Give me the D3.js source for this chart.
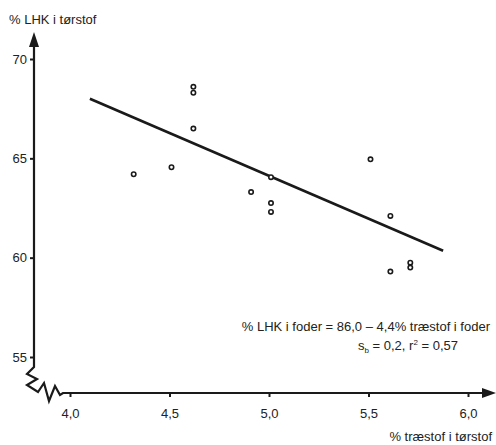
<!DOCTYPE html>
<html><head><meta charset="utf-8">
<script src="https://cdn.jsdelivr.net/npm/d3@7"></script>
<style>body{margin:0;background:#fff;} text{font-family:"Liberation Sans",Arial,sans-serif;fill:#222;}</style>
</head><body><svg id="c" width="496" height="445"></svg>
<script>
const xTicks = [4.0, 4.5, 5.0, 5.5, 6.0];
const xTickLabels = ["4,0", "4,5", "5,0", "5,5", "6,0"];
const yTicks = [55, 60, 65, 70];
const yTickLabels = ["55", "60", "65", "70"];
const pointX = [4.62, 4.62, 4.62, 4.32, 4.51, 4.91, 5.01, 5.01, 5.01, 5.51, 5.61, 5.61, 5.71, 5.71];
const pointY = [68.6, 68.3, 66.5, 64.2, 64.55, 63.3, 64.05, 62.75, 62.3, 64.95, 62.1, 59.3, 59.75, 59.5];
const lineX = [4.1, 5.875];
const lineY = [68.0, 60.35];
const yTitle = "% LHK i tørstof";
const xTitle = "% træstof i tørstof";
const eq1 = "% LHK i foder = 86,0 – 4,4% træstof i foder";

const svg = d3.select("#c");
const x = d3.scaleLinear().domain([4, 6]).range([70, 468]);
const y = d3.scaleLinear().domain([55, 70]).range([357, 59]);
const axX = 34, axY = 393;
const ink = "#1a1a1a";

// y axis line with zigzag break
const yPath = d3.path();
yPath.moveTo(axX, 44);
yPath.lineTo(axX, 367);
[[27,374],[37,379],[27,385],[38,392],[44,383],[49,401],[55,386],[60,395],[63,axY]].forEach(p => yPath.lineTo(p[0], p[1]));
yPath.lineTo(488, axY);
svg.append("path").attr("d", yPath.toString()).attr("fill", "none").attr("stroke", ink).attr("stroke-width", 2.2).attr("stroke-linejoin", "miter");
// arrowheads
svg.append("path").attr("d", `M${axX},32 L${axX-5},47 L${axX+5},47 Z`).attr("fill", ink);
svg.append("path").attr("d", `M496,${axY} L482,${axY-5} L482,${axY+5} Z`).attr("fill", ink);

// y ticks via axis
const yAxis = d3.axisLeft(y).tickValues(yTicks).tickSize(4).tickPadding(3)
  .tickFormat((d, i) => yTickLabels[i]);
const gy = svg.append("g").attr("transform", `translate(${axX},0)`).call(yAxis);
gy.select(".domain").remove();
gy.selectAll("line").attr("stroke", ink).attr("stroke-width", 2);
gy.selectAll("text").attr("font-size", 13).attr("fill", "#222");

const xAxis = d3.axisBottom(x).tickValues(xTicks).tickSize(4).tickPadding(12)
  .tickFormat((d, i) => xTickLabels[i]);
const gx = svg.append("g").attr("transform", `translate(0,${axY})`).call(xAxis);
gx.select(".domain").remove();
gx.selectAll("line").attr("stroke", ink).attr("stroke-width", 2);
gx.selectAll("text").attr("font-size", 13).attr("fill", "#222");

// titles
svg.append("text").attr("x", 9).attr("y", 24).attr("font-size", 13).text(yTitle);
svg.append("text").attr("x", 492).attr("y", 441).attr("text-anchor", "end").attr("font-size", 13).text(xTitle);

// regression line
svg.append("line").attr("x1", x(lineX[0])).attr("y1", y(lineY[0])).attr("x2", x(lineX[1])).attr("y2", y(lineY[1]))
  .attr("stroke", ink).attr("stroke-width", 2.6);

// points
svg.selectAll("circle.pt").data(pointX.map((v, i) => [v, pointY[i]])).enter().append("circle")
  .attr("class", "pt").attr("cx", d => x(d[0])).attr("cy", d => y(d[1])).attr("r", 2.2)
  .attr("fill", "#fff").attr("stroke", ink).attr("stroke-width", 1.6);

// equation
svg.append("text").attr("x", 490).attr("y", 331).attr("text-anchor", "end").attr("font-size", 13).text(eq1);
const t2 = svg.append("text").attr("x", 358).attr("y", 350).attr("font-size", 13);
t2.append("tspan").text("s");
t2.append("tspan").attr("font-size", 8).attr("dy", 3).text("b");
t2.append("tspan").attr("dy", -3).text(" = 0,2, r");
t2.append("tspan").attr("font-size", 8).attr("dy", -5).text("2");
t2.append("tspan").attr("dy", 5).text(" = 0,57");
</script></body></html>
